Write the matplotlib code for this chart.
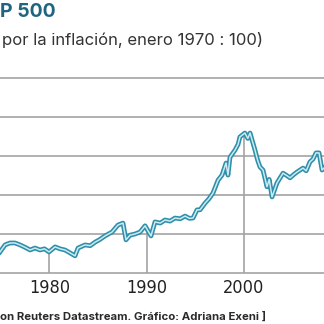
import numpy as np
import matplotlib
matplotlib.use('Agg')
import matplotlib.pyplot as plt

years = [1974.93, 1975.45, 1975.96, 1976.47, 1976.99, 1977.5, 1978.02, 1978.53, 1979.04,
         1979.5, 1979.97, 1980.59, 1981.1, 1981.61, 1982.1, 1982.64, 1982.95, 1983.67,
         1984.2, 1984.7, 1985.2, 1985.72, 1986.44, 1987.06, 1987.57, 1987.88, 1988.29,
         1988.8, 1989.32, 1989.84, 1990.45, 1990.86, 1991.4, 1991.89, 1992.4, 1992.92,
         1993.45, 1993.95, 1994.4, 1994.77, 1995.18, 1995.49, 1996.0, 1996.4, 1996.82,
         1997.34, 1997.75, 1998.16, 1998.36, 1998.57, 1999.08, 1999.4, 1999.59, 2000.1,
         2000.4, 2000.63, 2001.14, 2001.4, 2001.65, 2001.96, 2002.37, 2002.6, 2002.89,
         2003.4, 2004.02, 2004.4, 2004.74, 2005.1, 2005.46, 2006.07, 2006.4, 2006.79,
         2007.1, 2007.41, 2007.72, 2008.03, 2008.23]
values = [54, 72, 77, 77, 72, 66, 59, 64, 59,
          62, 54, 67, 62, 59, 52, 44, 64, 72,
          70, 79, 86, 95, 105, 123, 128, 85, 97,
          100, 105, 121, 95, 131, 128, 136, 133, 141,
          139, 146, 140, 141, 162, 162, 179, 190, 205,
          238, 251, 282, 251, 297, 315, 330, 349, 359,
          345, 359, 315, 290, 272, 264, 221, 240, 195,
          231, 256, 250, 244, 252, 259, 269, 262, 285,
          292, 308, 308, 264, 269]

grid_vals = [0, 100, 200, 300, 400, 500]
decades = [1980, 1990, 2000]
decade_labels = ['1980', '1990', '2000']

title = 'P 500'
subtitle = 'por la inflación, enero 1970 : 100)'
source = 'on Reuters Datastream. Gráfico: Adriana Exeni ]'

fig = plt.figure(figsize=(3.24, 3.24), dpi=100)
ax = fig.add_axes([0, 51/324, 1, 195/324])
ax.set_xlim(1974.93, 2008.23)
ax.set_ylim(0, 500)
ax.axis('off')

grey = '#a3a3a3'
for g in grid_vals:
    ax.axhline(g, color=grey, lw=1.2, clip_on=False, zorder=1)
for d in decades:
    ax.vlines(d, 0, np.interp(d, years, values), color=grey, lw=1.2, zorder=1)

ax.plot(years, values, color='#2f8ea9', lw=3.4, solid_joinstyle='round', zorder=3)
ax.plot(years, values, color='#c9ebf2', lw=1.1, solid_joinstyle='round', zorder=4)

for d, lab in zip(decades, decade_labels):
    ax.text(d, -38, lab, ha='center', va='center', clip_on=False,
            fontsize=13, family='DejaVu Sans', fontstretch='condensed',
            color='#222222')

fig.text(0.0, 312/324, title, fontsize=14, fontweight='bold', color='#1f6580',
         ha='left', va='center', family='Inter')
fig.text(0.006, 284/324, subtitle, fontsize=12, color='#333333',
         ha='left', va='center', family='Inter')
fig.text(0.0, 7/324, source, fontsize=8.2, fontweight='bold', color='#2a2a2a',
         ha='left', va='center', family='Inter')

fig.savefig('out.png', dpi=100)
